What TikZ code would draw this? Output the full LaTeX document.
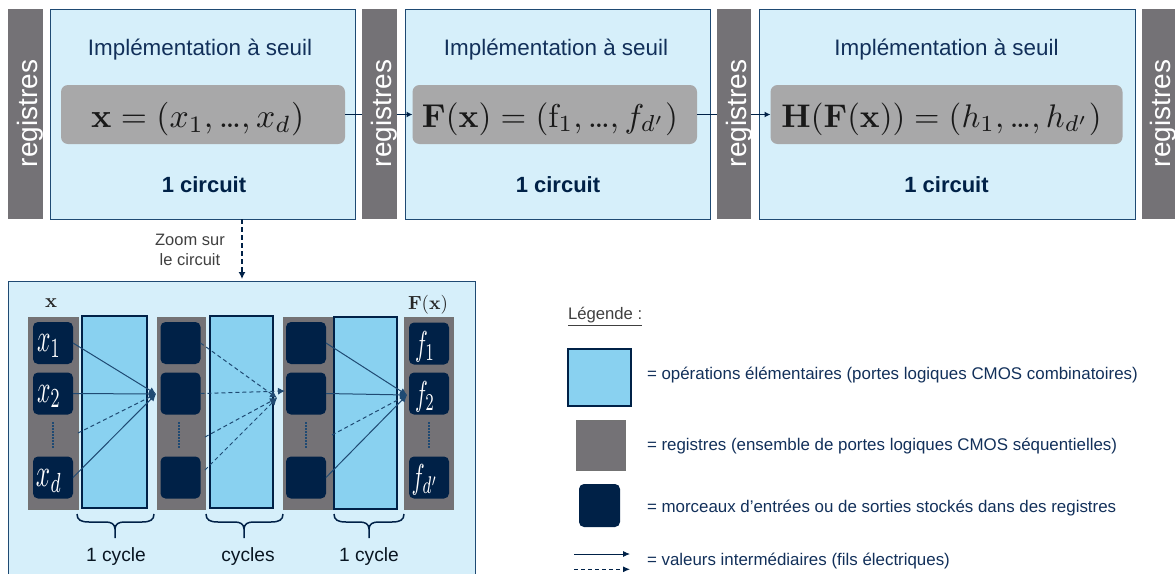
\documentclass[tikz,border=0pt]{standalone}
\usepackage{amsmath}
\usepackage[no-math]{fontspec}
\usepackage{graphicx}
\setmainfont{Liberation Sans}
\usetikzlibrary{arrows.meta}
\definecolor{navy}{HTML}{002147}
\definecolor{edgeblue}{HTML}{1F4A73}
\definecolor{paleblue}{HTML}{D6EFFA}
\definecolor{opblue}{HTML}{89D1F0}
\definecolor{reggray}{HTML}{747276}
\definecolor{pillgray}{HTML}{A8A8A9}
\definecolor{txtnavy}{HTML}{12305A}
\newcommand{\fs}[1]{\fontsize{#1}{#1}\selectfont}
\newcommand{\tdots}{{.}\mkern-1.5mu{.}\mkern-1.5mu{.}}
\newcommand{\bracepath}[3]{%
  (#1,514) .. controls (#1,520) and ({#1+4},522) .. ({#1+12},522)
  -- ({#2-9},522) .. controls ({#2-4},522) and (#2,524) .. (#2,529) -- (#2,538)
  (#2,529) .. controls (#2,524) and ({#2+4},522) .. ({#2+9},522)
  -- ({#3-12},522) .. controls ({#3-4},522) and (#3,520) .. (#3,514)}
\tikzset{
  x=1pt,y=-1pt,
  every node/.style={inner sep=0pt,outer sep=0pt},
  bigbox/.style={draw=edgeblue,line width=0.9pt,fill=paleblue,minimum height=210pt},
  pill/.style={fill=pillgray,rounded corners=7pt,minimum height=59pt},
  regbar/.style={fill=reggray,minimum height=210pt},
  reglabel/.style={rotate=90,text=white,font=\fs{28}},
  headtxt/.style={anchor=base,text=txtnavy,font=\fs{22.4}},
  bold txt/.style={anchor=base,text=navy,font=\bfseries\fs{22}},
  mathtxt/.style={anchor=base,text=black!90},
  smallreg/.style={fill=reggray,draw=black!55,line width=0.5pt},
  opbox/.style={fill=opblue,draw=navy,line width=1.3pt},
  chip/.style={fill=navy,rounded corners=5pt,minimum width=40pt,minimum height=42pt},
  chiptxt/.style={text=white},
  wire/.style={draw=edgeblue,line width=1pt,-{Latex[length=7pt,width=7pt]}},
  dwire/.style={wire,dash pattern=on 4pt off 3pt},
  bigarrow/.style={draw=navy,line width=1.5pt,-{Latex[length=6pt,width=6pt]}},
  dotsv/.style={draw=edgeblue,line width=1.3pt,dash pattern=on 1.5pt off 1.5pt},
  brace/.style={draw=navy,line width=1.5pt},
  cyc/.style={anchor=base,text=black!70!edgeblue,font=\fs{19.2}},
  legtxt/.style={anchor=base west,text=txtnavy,font=\fs{16.9}},
  zoomtxt/.style={text=black!75,font=\fs{16.5}},
}
\begin{document}
\begin{tikzpicture}
\useasboundingbox (0,0) rectangle (1175,573);
% top row
\node[bigbox,minimum width=305pt] (b1) at (202.5,114) {};
\node[bigbox,minimum width=305pt] (b2) at (557.5,114) {};
\node[bigbox,minimum width=376pt] (b3) at (947,114) {};
\node[pill,minimum width=284pt] (p1) at (203,114.5) {};
\node[pill,minimum width=284.5pt] (p2) at (554.75,114.5) {};
\node[pill,minimum width=352pt] (p3) at (946.5,114.5) {};
\draw[bigarrow] (p1.east) -- (p2.west);
\draw[bigarrow] (p2.east) -- (p3.west);
\node[regbar,minimum width=35pt] (r1) at (25.5,114) {};
\node[regbar,minimum width=35pt] (r2) at (379.5,114) {};
\node[regbar,minimum width=34pt] (r3) at (734,114) {};
\node[regbar,minimum width=33pt] (r4) at (1158.5,114) {};
\node[reglabel] (rl1) at (30.5,113.5) {registres};
\node[reglabel] (rl2) at (384,113.5) {registres};
\node[reglabel] (rl3) at (739,113.5) {registres};
\node[reglabel] (rl4) at (1163,113.5) {registres};
\node[headtxt] (h1) at (200,55) {Implémentation à seuil};
\node[headtxt] (h2) at (556,55) {Implémentation à seuil};
\node[headtxt] (h3) at (946.5,55) {Implémentation à seuil};
\node[bold txt] (c1) at (204,192) {1 circuit};
\node[bold txt] (c2) at (558,192) {1 circuit};
\node[bold txt] (c3) at (946.5,192) {1 circuit};
\node[mathtxt] (m1) at (197.7,127) {\resizebox{213pt}{!}{$\mathbf{x}=(x_1,\tdots,x_d)$}};
\node[mathtxt] (m2) at (550,127) {\resizebox{256pt}{!}{$\mathbf{F}(\mathbf{x})=(\mathrm{f}_1,\tdots,f_{d'})$}};
\node[mathtxt] (m3) at (941.5,127) {\resizebox{320pt}{!}{$\mathbf{H}(\mathbf{F}(\mathbf{x}))=(h_1,\tdots,h_{d'})$}};
% zoom panel
\node[draw=edgeblue,line width=0.9pt,fill=paleblue,minimum width=467pt,minimum height=300pt] (panel) at (241.5,431) {};
\coordinate (ztop) at (242,219);
\coordinate (zend) at (242,279);
\draw[draw=navy,line width=1.3pt,dash pattern=on 5pt off 3pt,-{Latex[length=7pt,width=7pt]}] (ztop) -- (zend);
\node[zoomtxt] (z1) at (190,240) {Zoom sur};
\node[zoomtxt] (z2) at (190,260) {le circuit};
% registers and operation blocks
\node[smallreg,minimum width=50pt,minimum height=192pt] (s1) at (53,413) {};
\node[opbox,minimum width=65pt,minimum height=192pt] (o1) at (114.5,412) {};
\node[smallreg,minimum width=48pt,minimum height=192pt] (s2) at (181,413) {};
\node[opbox,minimum width=63pt,minimum height=192pt] (o2) at (241.5,412) {};
\node[smallreg,minimum width=49pt,minimum height=192pt] (s3) at (307.5,413) {};
\node[opbox,minimum width=63pt,minimum height=192pt] (o3) at (365.5,413) {};
\node[smallreg,minimum width=49pt,minimum height=192pt] (s4) at (428.5,413) {};
% chips
\node[chip] (a1) at (53,343) {};
\node[chip] (a2) at (53,393.5) {};
\node[chip] (a3) at (53,477.5) {};
\node[chip] (e1) at (180.5,343) {};
\node[chip] (e2) at (180.5,393.5) {};
\node[chip] (e3) at (180.5,477.5) {};
\node[chip] (g1) at (306,343) {};
\node[chip] (g2) at (306,393.5) {};
\node[chip] (g3) at (306,477.5) {};
\node[chip] (f1) at (429,343.5) {};
\node[chip] (f2) at (429,393.5) {};
\node[chip] (f3) at (429,477.5) {};
\node[chiptxt] (la1) at (49,346) {\resizebox{24pt}{17pt}{$x_1$}};
\node[chiptxt] (la2) at (49,396.5) {\resizebox{24pt}{17pt}{$x_2$}};
\node[chiptxt] (la3) at (49,481) {\resizebox{26pt}{17pt}{$x_d$}};
\node[chiptxt] (lf1) at (425,347) {\resizebox{20pt}{24pt}{$f_1$}};
\node[chiptxt] (lf2) at (425,397) {\resizebox{20pt}{24pt}{$f_2$}};
\node[chiptxt] (lf3) at (425,480) {\resizebox{27pt}{24pt}{$f_{d'}$}};
% vertical dots
\coordinate (d1a) at (53,422); \coordinate (d1b) at (53,449);
\coordinate (d2a) at (179,422); \coordinate (d2b) at (179,449);
\coordinate (d3a) at (306,422); \coordinate (d3b) at (306,449);
\coordinate (d4a) at (429,422); \coordinate (d4b) at (429,449);
\draw[dotsv] (d1a) -- (d1b);
\draw[dotsv] (d2a) -- (d2b);
\draw[dotsv] (d3a) -- (d3b);
\draw[dotsv] (d4a) -- (d4b);
% wires
\coordinate (t1) at (156,394);
\coordinate (t2a) at (285,391);
\coordinate (t2b) at (277,398);
\coordinate (t3) at (407,395);
\coordinate (s1m) at (78,433);
\coordinate (s2m) at (205,437);
\coordinate (s2n) at (205,470);
\coordinate (s3m) at (332,435);
\draw[wire] (a1.east) -- (t1);
\draw[wire] (a2.east) -- (t1);
\draw[dwire] (s1m) -- (t1);
\draw[wire] (a3.east) -- (t1);
\draw[dwire] (e1.east) -- (t2b);
\draw[dwire] (e2.east) -- (t2a);
\draw[dwire] (s2m) -- (t2b);
\draw[dwire] (s2n) -- (t2b);
\draw[wire] (g1.east) -- (t3);
\draw[wire] (g2.east) -- (t3);
\draw[dwire] (s3m) -- (t3);
\draw[wire] (g3.east) -- (t3);
% braces
\draw[brace] \bracepath{77}{115}{154};
\draw[brace] \bracepath{206}{244}{283};
\draw[brace] \bracepath{334}{369}{404};
\node[cyc] (y1) at (116,561) {1 cycle};
\node[cyc] (y2) at (248,561) {cycles};
\node[cyc] (y3) at (369,561) {1 cycle};
% panel labels
\node[anchor=base,text=black!85] (lx) at (51,307) {\resizebox{12pt}{!}{$\mathbf{x}$}};
\node[anchor=base,text=black!85] (lf) at (428,309) {\resizebox{40pt}{!}{$\mathbf{F}(\mathbf{x})$}};
% legend
\node[anchor=base west,text=black!75,font=\fs{16.7}] (lg) at (568,319) {\underline{Légende :}};
\node[opbox,minimum width=63pt,minimum height=57pt] (k1) at (599.5,377.5) {};
\node[smallreg,minimum width=49pt,minimum height=50pt] (k2) at (600.5,445) {};
\node[chip,minimum width=41pt,minimum height=43pt] (k3) at (599.5,505.5) {};
\coordinate (k4a) at (574,554); \coordinate (k4b) at (630,554);
\coordinate (k5a) at (574,569.3); \coordinate (k5b) at (630,569.3);
\draw[draw=navy,line width=0.9pt,-{Latex[length=7pt,width=6pt]}] (k4a) -- (k4b);
\draw[draw=navy,line width=0.9pt,dash pattern=on 4pt off 3pt,-{Latex[length=7pt,width=6pt]}] (k5a) -- (k5b);
\node[legtxt] (t1txt) at (647,379.5) {= opérations élémentaires (portes logiques CMOS combinatoires)};
\node[legtxt] (t2txt) at (647,450.5) {= registres (ensemble de portes logiques CMOS séquentielles)};
\node[legtxt] (t3txt) at (647,512.5) {= morceaux d’entrées ou de sorties stockés dans des registres};
\node[legtxt] (t4txt) at (647,565.5) {= valeurs intermédiaires (fils électriques)};
\end{tikzpicture}
\end{document}
